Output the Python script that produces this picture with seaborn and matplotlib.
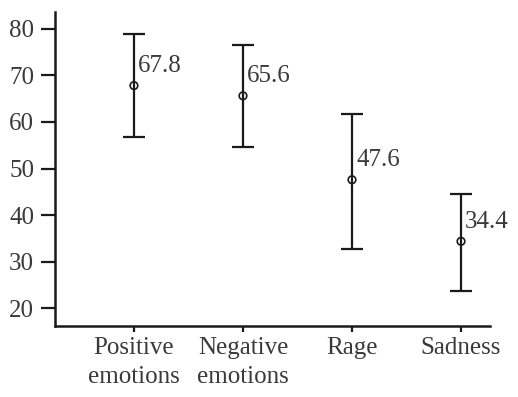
import numpy as np
import pandas as pd
import seaborn as sns
import matplotlib.pyplot as plt

# values
categories = ["Positive\nemotions", "Negative\nemotions", "Rage", "Sadness"]
means = [67.8, 65.6, 47.6, 34.4]
upper = [78.8, 76.4, 61.8, 44.6]
lower = [56.8, 54.7, 32.8, 23.8]

df = pd.DataFrame({"category": categories, "mean": means,
                   "upper": upper, "lower": lower})
df["x"] = np.arange(len(df))

sns.set_style("ticks")
plt.rcParams["font.family"] = ["Liberation Serif", "DejaVu Serif"]

fig = plt.figure(figsize=(5.18, 3.97), dpi=100)
ax = fig.add_axes([0.106, 0.179, 0.840, 0.791])

yerr = np.vstack([df["mean"] - df["lower"], df["upper"] - df["mean"]])
ax.errorbar(df["x"], df["mean"], yerr=yerr, fmt="none", ecolor="#1a1a1a",
            elinewidth=1.6, capsize=8, capthick=1.6, zorder=2)
sns.scatterplot(data=df, x="x", y="mean", ax=ax, marker="o", s=30,
                facecolor="none", edgecolor="#1a1a1a", linewidth=1.2,
                zorder=3, legend=False)

for _, r in df.iterrows():
    ax.annotate(f"{r['mean']:.1f}", (r["x"], r["mean"]), xytext=(3, 14),
                textcoords="offset points", ha="left", va="center",
                fontsize=18, color="#3a3a3a")

ax.set_xlim(-0.725, 3.266)
ax.set_ylim(16.25, 83.6)
ax.set_yticks(range(20, 81, 10))
ax.set_xticks(df["x"])
ax.set_xticklabels(df["category"], linespacing=1.4)
ax.set_xlabel("")
ax.set_ylabel("")

sns.despine(ax=ax)
for s in ["left", "bottom"]:
    ax.spines[s].set_linewidth(1.8)
    ax.spines[s].set_color("#1a1a1a")
ax.tick_params(axis="y", length=10, width=1.6, labelsize=18,
               colors="#1a1a1a", labelcolor="#3a3a3a", pad=5)
ax.tick_params(axis="x", length=4, width=1.6, labelsize=18,
               colors="#1a1a1a", labelcolor="#3a3a3a", pad=4)

fig.savefig("out.png", dpi=100)
